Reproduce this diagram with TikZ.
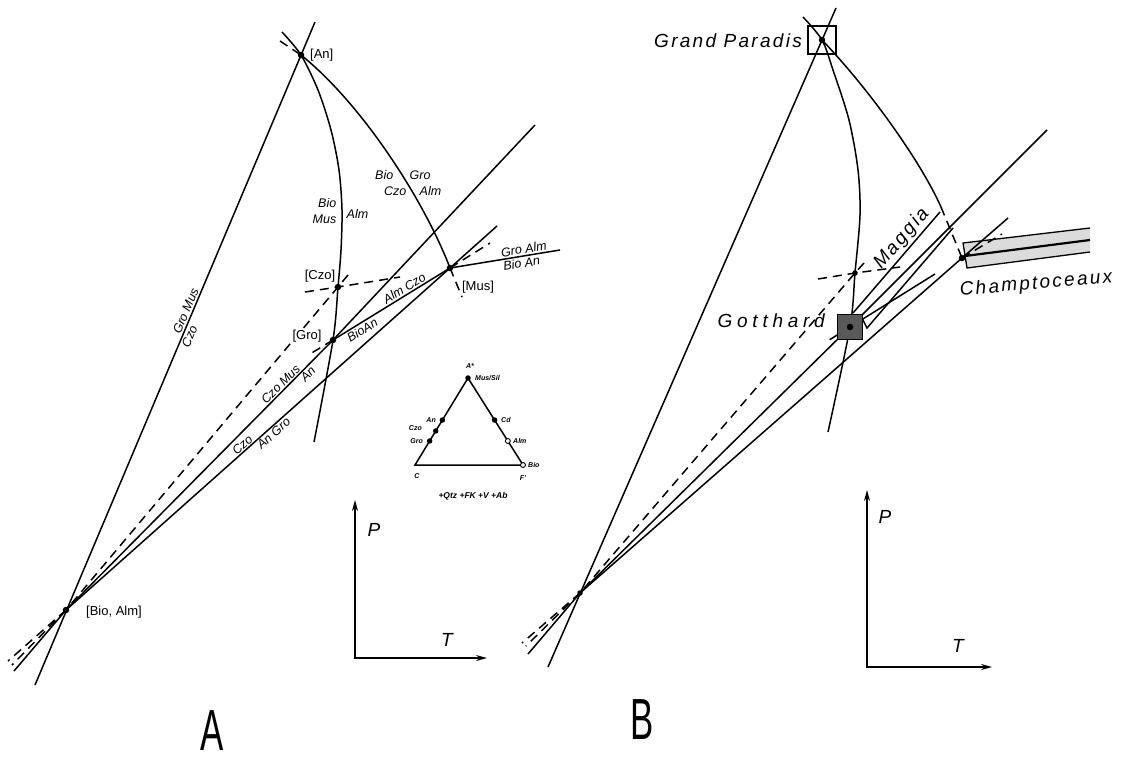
\documentclass[tikz,border=0pt]{standalone}
\usepackage{fontspec}
\setmainfont{Liberation Sans}
\newfontfamily\lettering[LetterSpace=12]{Liberation Sans}
\usetikzlibrary{arrows.meta}

\begin{document}
\begin{tikzpicture}[x=1pt, y=-1pt,
  >={Stealth[length=11pt, width=6pt]},
  ln/.style={line width=1.5pt},
  mst/.style={line width=1.5pt, dash pattern=on 9pt off 6pt},
  pt/.style={circle, fill=black, inner sep=0pt, minimum size=6.5pt},
  phs/.style={font=\fontsize{12.5}{13}\selectfont\itshape, inner sep=1.5pt},
  ip/.style={font=\fontsize{13}{14}\selectfont, inner sep=1pt},
  tri/.style={font=\fontsize{7}{8}\selectfont\bfseries\itshape, inner sep=1pt},
  tdot/.style={circle, fill=black, inner sep=0pt, minimum size=5.5pt},
  place/.style={font=\lettering\fontsize{19}{20}\selectfont\itshape, inner sep=2pt},
  axlbl/.style={font=\fontsize{19}{20}\selectfont\itshape},
  panel/.style={font=\fontsize{58}{60}\selectfont},
]

% Canvas (1126 x 761)
\useasboundingbox (0,0) rectangle (1126,761);

% === Panel A: invariant points ===
\coordinate (an) at (301,55);
\coordinate (bioalm) at (66,610);
\coordinate (czo) at (338,287);
\coordinate (gro) at (333,340);
\coordinate (mus) at (450,268);

% free ends
\coordinate (stA1) at (35,685);  \coordinate (stA2) at (315,22);
\coordinate (vA0) at (282,32);   \coordinate (vA1) at (314,442);
\coordinate (mA0) at (280,41);   \coordinate (mA1) at (462,297);
\coordinate (gA0) at (12,665);   \coordinate (gA1) at (535,125);
\coordinate (uA0) at (8,661);    \coordinate (uA1) at (497,226);
\coordinate (gmA0) at (310,354); \coordinate (gmA1) at (490,243);
\coordinate (cA0) at (14,671);   \coordinate (cA1) at (348,275);
\coordinate (chA0) at (305,292); \coordinate (chA1) at (400,277);
\coordinate (rA1) at (560,250);

% steep line
\draw[ln] (stA1) -- (stA2)
  node[phs, pos=0.56, sloped, above] (lGroMus) {Gro Mus}
  node[phs, pos=0.53, sloped, below] (lCzoA) {Czo};

% curves through [An]
\draw[ln] plot[smooth] coordinates {(vA0) (an) (318,90) (331,130) (339,170) (342,210) (341,250) (czo) (gro) (vA1)};
\draw[ln] (an) .. controls (362,104) and (424,200) .. (mus);
\draw[mst] (mA0) -- (an);
\draw[mst] (mus) -- (mA1);

% lines through [Bio, Alm]
\draw[ln] (bioalm) -- (gro) -- (gA1);
\path (bioalm) -- (gro)
  node[phs, pos=0.82, sloped, above] (lCzoMus) {Czo Mus}
  node[phs, pos=0.89, sloped, below] (lAnA) {An};
\draw[ln] (bioalm) -- (mus) -- (uA1);
\path (bioalm) -- (mus)
  node[phs, pos=0.47, sloped, above] (lCzoB) {Czo}
  node[phs, pos=0.53, sloped, below] (lAnGro) {An Gro};
\draw[mst] (bioalm) -- (gA0);
\draw[mst] (bioalm) -- (uA0);
\draw[mst] (cA1) -- (czo) -- (bioalm);
\draw[ln] (bioalm) -- (cA0);

% [Gro] -- [Mus]
\draw[ln] (gro) -- (mus)
  node[phs, pos=0.64, sloped, above] (lAlmCzo) {Alm Czo}
  node[phs, pos=0.22, sloped, below] (lBioAnA) {BioAn};
\draw[mst] (mus) -- (gmA1);
\draw[mst] (gro) -- (gmA0);
\draw[mst] (chA0) -- (czo) -- (chA1);
\draw[ln] (mus) -- (rA1)
  node[phs, pos=0.68, sloped, above] (lGroAlm) {Gro Alm}
  node[phs, pos=0.64, sloped, below] (lBioAnB) {Bio An};

% curve labels
\node[phs, anchor=east] (lBio1) at (338,203) {Bio};
\node[phs, anchor=east] (lMus1) at (338,219) {Mus};
\node[phs, anchor=west] (lAlm1) at (345,214) {Alm};
\node[phs, anchor=east] (lBio2) at (395,175) {Bio};
\node[phs, anchor=west] (lGro2) at (408,175) {Gro};
\node[phs, anchor=east] (lCzo2) at (408,191) {Czo};
\node[phs, anchor=west] (lAlm2) at (418,191) {Alm};

% points
\node[pt] (dAn) at (an) {};
\node[pt] (dBioAlm) at (bioalm) {};
\node[pt] (dCzo) at (czo) {};
\node[pt] (dGro) at (gro) {};
\node[pt] (dMus) at (mus) {};
\node[ip, anchor=west] (lAn) at (309,55) {[An]};
\node[ip] (lCzo) at (320,276) {[Czo]};
\node[ip, fill=white] (lGro) at (307,336) {[Gro]};
\node[ip] (lMus) at (478,287) {[Mus]};
\node[ip] (lBioAlm) at (114,612) {[Bio, Alm]};

% === Inset: composition triangle ===
\coordinate (tA) at (468,378);
\coordinate (tC) at (415,465);
\coordinate (tF) at (523,465);
\draw[line width=1.5pt] (tA) -- (tC) -- (tF) -- cycle;
\path (tC) -- (tA) coordinate[pos=0.517] (tAn) coordinate[pos=0.391] (tCzo) coordinate[pos=0.276] (tGro);
\path (tA) -- (tF) coordinate[pos=0.483] (tCd) coordinate[pos=0.724] (tAlm);
\node[tdot] (dtA) at (tA) {};
\node[tdot] (dtAn) at (tAn) {};
\node[tdot] (dtCzo) at (tCzo) {};
\node[tdot] (dtGro) at (tGro) {};
\node[tdot] (dtCd) at (tCd) {};
\node[circle, draw, fill=white, line width=0.9pt, inner sep=0pt, minimum size=5pt] (dtAlm) at (tAlm) {};
\node[circle, draw, fill=white, line width=0.9pt, inner sep=0pt, minimum size=5pt] (dtBio) at (tF) {};
\node[tri] (ltA) at (470,366) {A*};
\node[tri, anchor=west] (ltMus) at (474,378) {Mus/Sil};
\node[tri, anchor=east] (ltAn) at (437,420) {An};
\node[tri, anchor=east] (ltCzo) at (423,428) {Czo};
\node[tri, anchor=east] (ltGro) at (424,441) {Gro};
\node[tri, anchor=west] (ltCd) at (500,420) {Cd};
\node[tri, anchor=west] (ltAlm) at (512,441) {Alm};
\node[tri, anchor=west] (ltBio) at (527,465) {Bio};
\node[tri] (ltC) at (417,476) {C};
\node[tri] (ltF) at (523,478) {F'};
\node[tri, font=\fontsize{8.5}{9}\selectfont\bfseries\itshape] (ltExtra) at (473,496) {+Qtz +FK +V +Ab};

% === Panel A: P-T axes ===
\coordinate (oA) at (355,658);
\coordinate (pA) at (355,500);
\coordinate (tA2) at (487,658);
\draw[ln, <->] (pA) -- (oA) -- (tA2);
\node[axlbl] (lPA) at (374,530) {P};
\node[axlbl] (lTA) at (447,640) {T};
\node[panel] (lPanelA) at (212,731) {\scalebox{0.6}[1]{A}};

% === Panel B: natural assemblages ===
\coordinate (gp) at (822,40);
\coordinate (bot) at (580,593);
\coordinate (czoB) at (855,273);
\coordinate (got) at (850,327);
\coordinate (champ) at (962,258);

\coordinate (stB1) at (548,667);  \coordinate (stB2) at (836,8);
\coordinate (vB0) at (803,17);    \coordinate (vB1) at (828,432);
\coordinate (mB1) at (941,207);
\coordinate (gB0) at (526,646);   \coordinate (gB1) at (1047,130);
\coordinate (uB0) at (522,643);   \coordinate (uB1) at (1008,218);
\coordinate (cB0) at (528,654);   \coordinate (cB1) at (864,263);
\coordinate (chB0) at (818,279);  \coordinate (chB1) at (900,267);
\coordinate (gmB0) at (826,342);  \coordinate (gmB1) at (935,274);
\coordinate (gmB2) at (1002,234);
\coordinate (mg1) at (853,313);   \coordinate (mg2) at (940,212);
\coordinate (mg3) at (862,318);   \coordinate (mg4) at (867,328);
\coordinate (mg5) at (953,228);

% Champtoceaux band
\fill[black!14] (963,243) -- (1090,228) -- (1090,252) -- (967,268) -- cycle;
\draw[line width=1.3pt] (1090,228) -- (963,243) -- (967,268) -- (1090,252);
\draw[line width=2.2pt] (965,256) -- (1090,240);

% steep line and curves
\draw[ln] (stB1) -- (stB2);
\draw[ln] plot[smooth] coordinates {(vB0) (gp) (833,70) (849,120) (858,170) (860,215) (czoB) (got) (vB1)};
\draw[ln] (gp) .. controls (868,88) and (920,160) .. (mB1);
\draw[mst] (mB1) -- (champ);

% lines through the lower point
\draw[ln] (bot) -- (got) -- (gB1);
\draw[ln] (bot) -- (champ) -- (uB1);
\draw[mst] (bot) -- (gB0);
\draw[mst] (bot) -- (uB0);
\draw[mst] (cB1) -- (czoB) -- (bot);
\draw[ln] (bot) -- (cB0);
\draw[mst] (chB0) -- (czoB) -- (chB1);
\draw[ln] (got) -- (gmB1);
\draw[mst] (got) -- (gmB0);
\draw[mst] (champ) -- (gmB2);

% Maggia band
\draw[ln] (mg1) -- (mg2)
  node[place, pos=0.66, sloped, above] (lMag) {Maggia};
\draw[ln] (mg3) -- (mg4) -- (mg5);

% localities
\node[draw, line width=1.5pt, minimum size=28pt, inner sep=0pt] (gpbox) at (gp) {};
\node[draw, fill=black!65, line width=1.5pt, minimum size=25pt, inner sep=0pt] (gotbox) at (got) {};
\node[pt] (dGP) at (gp) {};
\node[pt, fill=black] (dGot) at (got) {};
\node[pt, minimum size=5.5pt] (dCzoB) at (czoB) {};
\node[pt] (dChamp) at (champ) {};
\node[pt, minimum size=5.5pt] (dBot) at (bot) {};

\node[place, anchor=east] (lGP) at (804,41) {Grand Paradis};
\node[place, anchor=east, font=\lettering\addfontfeature{LetterSpace=25}\fontsize{19}{20}\selectfont\itshape] (lGot) at (827,321) {Gotthard};
\node[place, rotate=5] (lCh) at (1036,284) {Champtoceaux};

% === Panel B: P-T axes ===
\coordinate (oB) at (867,667);
\coordinate (pB) at (867,490);
\coordinate (tB) at (992,667);
\draw[ln, <->] (pB) -- (oB) -- (tB);
\node[axlbl] (lPB) at (885,517) {P};
\node[axlbl] (lTB) at (958,646) {T};
\node[panel] (lPanelB) at (642,720) {\scalebox{0.6}[1]{B}};

\end{tikzpicture}
\end{document}
